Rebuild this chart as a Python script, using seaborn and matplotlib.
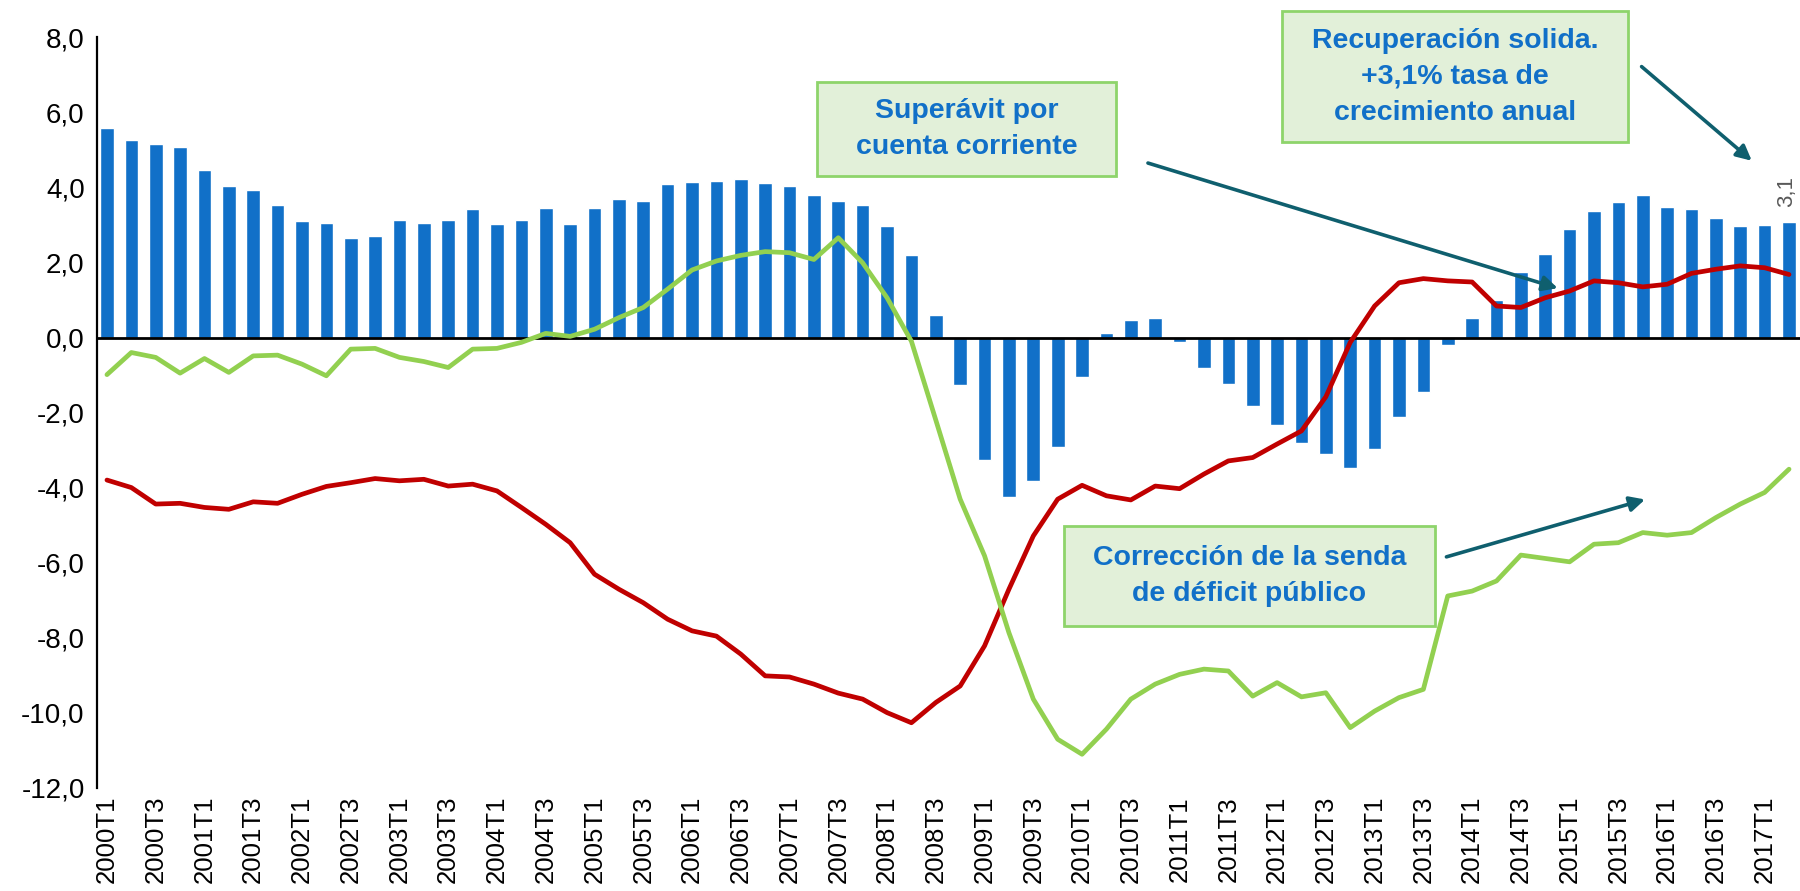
import numpy as np
import pandas as pd
import matplotlib
matplotlib.use('Agg')
import matplotlib.pyplot as plt
import seaborn as sns
from matplotlib.patches import Rectangle

# Quarterly data 2000T1 - 2017T2
years = list(range(2000, 2018))
quarters = [f'{y}T{q}' for y in years for q in range(1, 5)][:70]

# PIB, tasa de crecimiento anual (barras)
pib = [5.58, 5.27, 5.16, 5.08, 4.47, 4.03, 3.94, 3.53, 3.10, 3.05,
       2.65, 2.70, 3.13, 3.05, 3.13, 3.42, 3.03, 3.13, 3.45, 3.03,
       3.44, 3.69, 3.64, 4.08, 4.15, 4.16, 4.22, 4.12, 4.05, 3.81,
       3.64, 3.53, 2.96, 2.19, 0.61, -1.26, -3.26, -4.25, -3.82, -2.91,
       -1.04, 0.11, 0.46, 0.52, -0.13, -0.80, -1.24, -1.82, -2.32, -2.80,
       -3.10, -3.48, -2.97, -2.13, -1.46, -0.19, 0.52, 1.00, 1.74, 2.23,
       2.89, 3.37, 3.62, 3.79, 3.48, 3.42, 3.19, 2.96, 3.00, 3.07]

# Saldo por cuenta corriente (linea roja)
cuenta_corriente = [-3.80, -4.00, -4.44, -4.42, -4.53, -4.58, -4.38, -4.42, -4.18, -3.97,
                    -3.87, -3.76, -3.82, -3.78, -3.96, -3.91, -4.09, -4.53, -4.98, -5.47,
                    -6.31, -6.71, -7.07, -7.51, -7.82, -7.96, -8.44, -9.02, -9.05, -9.24,
                    -9.48, -9.64, -10.00, -10.27, -9.73, -9.29, -8.22, -6.71, -5.29, -4.31,
                    -3.94, -4.22, -4.33, -3.96, -4.03, -3.64, -3.29, -3.20, -2.84, -2.49,
                    -1.58, -0.13, 0.84, 1.46, 1.57, 1.51, 1.48, 0.84, 0.80, 1.06,
                    1.24, 1.51, 1.46, 1.35, 1.42, 1.71, 1.82, 1.91, 1.86, 1.68]

# Saldo publico (linea verde)
deficit_publico = [-0.99, -0.40, -0.53, -0.95, -0.56, -0.93, -0.49, -0.47, -0.71, -1.02,
                   -0.31, -0.29, -0.53, -0.64, -0.80, -0.31, -0.29, -0.13, 0.11, 0.03,
                   0.22, 0.53, 0.80, 1.29, 1.80, 2.04, 2.19, 2.29, 2.26, 2.08,
                   2.66, 1.99, 1.06, -0.10, -2.20, -4.31, -5.82, -7.87, -9.64, -10.71,
                   -11.11, -10.44, -9.64, -9.24, -8.98, -8.84, -8.89, -9.56, -9.20, -9.58,
                   -9.47, -10.40, -9.96, -9.60, -9.38, -6.89, -6.76, -6.49, -5.80, -5.89,
                   -5.98, -5.51, -5.47, -5.20, -5.27, -5.20, -4.80, -4.44, -4.13, -3.51]

yticks = [8, 6, 4, 2, 0, -2, -4, -6, -8, -10, -12]
ytick_labels = [f'{v:.1f}'.replace('.', ',') for v in yticks]

blue = '#1170C8'
red = '#C00000'
green = '#92D050'
arrow_col = '#0F5F6E'
box_face = '#E2F0D9'
box_edge = '#8ED46B'

sns.set_style('white')
plt.rcParams['font.family'] = ['Liberation Sans Narrow', 'Liberation Sans', 'DejaVu Sans']

fig = plt.figure(figsize=(18, 8.91), dpi=100)
ax = fig.add_axes([0.054, 0.116, 0.946, 0.842])

idx = np.arange(len(quarters))
df = pd.DataFrame({'q': idx, 'pib': pib, 'cc': cuenta_corriente, 'dp': deficit_publico})

sns.barplot(data=df, x='q', y='pib', color=blue, saturation=1, width=0.56, ax=ax, zorder=2)
ax.axhline(0, color='black', lw=2, zorder=2.5)
sns.lineplot(data=df, x='q', y='cc', color=red, lw=3.4, ax=ax, zorder=3,
             solid_capstyle='round', solid_joinstyle='round')
sns.lineplot(data=df, x='q', y='dp', color=green, lw=3.4, ax=ax, zorder=3,
             solid_capstyle='round', solid_joinstyle='round')

ax.set_xlim(-0.4, 69.45)
ax.set_ylim(-12, 8)
ax.set_yticks(yticks)
ax.set_yticklabels(ytick_labels, fontsize=20)
ax.set_xticks(idx[::2])
ax.set_xticklabels(quarters[::2], rotation=90, fontsize=18.5)
ax.tick_params(axis='both', length=0, pad=9, colors='black')
ax.tick_params(axis='x', pad=6)
ax.set_xlabel('')
ax.set_ylabel('')
for s in ['top', 'right', 'bottom']:
    ax.spines[s].set_visible(False)
ax.spines['left'].set_color('black')
ax.spines['left'].set_linewidth(1.6)
ax.grid(False)

# data label on last bar
ax.text(idx[-1] - 0.1, pib[-1] + 0.42, '3,1', rotation=90, ha='center', va='bottom',
        fontsize=16, color='#595959')

W, H = 1568.0, 776.0


def fx(x):
    return x / W


def fy(y):
    return 1 - y / H


def box(x0, y0, x1, y1, text):
    fig.patches.append(Rectangle((fx(x0), fy(y1)), fx(x1) - fx(x0), fy(y0) - fy(y1),
                                 transform=fig.transFigure, facecolor=box_face,
                                 edgecolor=box_edge, lw=2, zorder=5))
    fig.text(fx((x0 + x1) / 2), fy((y0 + y1) / 2), text, ha='center', va='center',
             color=blue, fontsize=20.5, fontweight='bold', linespacing=1.5,
             family=['Liberation Sans', 'DejaVu Sans'], zorder=6)


def arrow(x0, y0, x1, y1):
    ax.annotate('', xy=(fx(x1), fy(y1)), xycoords='figure fraction',
                xytext=(fx(x0), fy(y0)), textcoords='figure fraction',
                arrowprops=dict(arrowstyle='-|>,head_length=0.9,head_width=0.45',
                                color=arrow_col, lw=2.6, shrinkA=0, shrinkB=0),
                zorder=6)


box(712, 71, 972, 153, 'Superávit por\ncuenta corriente')
box(1117, 10, 1418, 124, 'Recuperación solida.\n+3,1% tasa de\ncrecimiento anual')
box(927, 458, 1250, 545, 'Corrección de la senda\nde déficit público')

arrow(1000, 142, 1357, 251)
arrow(1430, 58, 1526, 140)
arrow(1260, 485, 1433, 435)

fig.savefig('out.png', dpi=100)
